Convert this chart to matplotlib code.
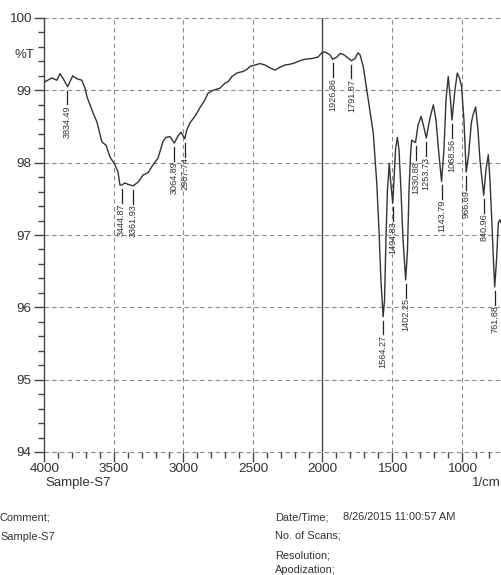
import matplotlib
matplotlib.use("Agg")
import matplotlib.pyplot as plt
from matplotlib.ticker import MultipleLocator

plt.rcParams['font.family'] = ['Liberation Sans', 'DejaVu Sans']

# Spectrum data (wavenumber 1/cm, %T)
wavenumber = [3995, 3945, 3909, 3887, 3858, 3832, 3796, 3765, 3731, 3707, 3693, 3650, 3621,
              3587, 3556, 3528, 3492, 3470, 3456, 3444, 3420, 3398, 3362, 3326, 3290, 3254,
              3219, 3183, 3147, 3125, 3096, 3065, 3039, 3017, 2990, 2976, 2953, 2917, 2881,
              2845, 2823, 2787, 2737, 2701, 2679, 2651, 2615, 2572, 2543, 2521, 2485, 2449,
              2413, 2377, 2341, 2306, 2270, 2234, 2198, 2162, 2126, 2076, 2032, 2004, 1982,
              1946, 1927, 1896, 1874, 1853, 1824, 1792, 1766, 1745, 1730, 1707, 1671, 1635,
              1610, 1594, 1580, 1564, 1554, 1544, 1533, 1520, 1511, 1495, 1486, 1475, 1462,
              1450, 1436, 1421, 1402, 1389, 1378, 1367, 1359, 1342, 1331, 1313, 1291, 1270,
              1254, 1227, 1203, 1184, 1166, 1144, 1127, 1112, 1096, 1080, 1069, 1048, 1031,
              1015, 1000, 983, 967, 950, 930, 918, 899, 882, 868, 841, 825, 808, 796, 784,
              771, 762, 749, 736, 724, 710]
transmittance = [99.12, 99.17, 99.14, 99.23, 99.14, 99.05, 99.20, 99.16, 99.14, 99.03, 98.91,
                 98.69, 98.56, 98.29, 98.24, 98.08, 97.97, 97.87, 97.69, 97.69, 97.72, 97.70,
                 97.68, 97.73, 97.83, 97.86, 97.97, 98.06, 98.29, 98.35, 98.36, 98.27, 98.37,
                 98.42, 98.33, 98.45, 98.55, 98.64, 98.76, 98.87, 98.96, 99.00, 99.03, 99.10,
                 99.12, 99.19, 99.24, 99.26, 99.29, 99.33, 99.35, 99.37, 99.35, 99.31, 99.28,
                 99.32, 99.35, 99.36, 99.38, 99.41, 99.43, 99.44, 99.46, 99.52, 99.53, 99.49,
                 99.43, 99.46, 99.51, 99.50, 99.46, 99.41, 99.44, 99.52, 99.49, 99.33, 98.87,
                 98.41, 97.72, 97.07, 96.38, 95.87, 96.10, 96.93, 97.62, 97.99, 97.76, 97.44,
                 97.76, 98.18, 98.35, 98.18, 97.62, 96.93, 96.38, 96.79, 97.62, 98.11, 98.31,
                 98.29, 98.28, 98.52, 98.64, 98.48, 98.34, 98.62, 98.80, 98.59, 98.18, 97.74,
                 98.18, 98.87, 99.19, 98.87, 98.59, 99.00, 99.24, 99.17, 99.05, 98.59, 97.87,
                 98.10, 98.55, 98.66, 98.77, 98.45, 98.04, 97.55, 97.90, 98.11, 97.76, 97.25,
                 96.65, 96.28, 96.65, 97.17, 97.21, 97.14]

# Peak labels
peak_wn = [3834.49, 3444.87, 3361.93, 3064.89, 2987.74, 1926.86, 1791.87, 1564.27, 1494.83,
           1402.25, 1330.88, 1253.73, 1143.79, 1068.56, 966.69, 840.96, 761.88]
peak_t = [99.05, 97.69, 97.68, 98.27, 98.33, 99.43, 99.41, 95.87, 97.44,
          96.38, 98.28, 98.34, 97.74, 98.59, 97.87, 97.55, 96.28]
peak_text = ["3834.49", "3444.87", "3361.93", "3064.89", "2987.74", "1926.86", "1791.87",
             "1564.27", "1494.83", "1402.25", "1330.88", "1253.73", "1143.79", "1068.56",
             "966.69", "840.96", "761.88"]

x_ticks = [4000, 3500, 3000, 2500, 2000, 1500, 1000]
y_ticks = [94, 95, 96, 97, 98, 99, 100]

W, H = 502, 575
fig = plt.figure(figsize=(W / 100, H / 100), dpi=100)
ax = fig.add_axes([44.3 / W, 1 - 452 / H, 1 - 44.3 / W, (452 - 18) / H])

ax.set_xlim(4000, 709.5)
ax.set_ylim(94, 100)

dark = '#333333'
ax.plot(wavenumber, transmittance, color=dark, lw=1.0, zorder=3)

# grid
for xv in x_ticks[1:]:
    if xv != 2000:
        ax.axvline(xv, color='#8a8a8a', lw=0.8, ls=(0, (4, 3)), zorder=1)
for yv in y_ticks:
    ax.axhline(yv, color='#8a8a8a', lw=0.8, ls=(0, (4, 3)), zorder=1, clip_on=False)
ax.axvline(2000, color='#444444', lw=1.0, zorder=2)

# peak annotations
gap, length = 0.055, 0.19
for w, t, s in zip(peak_wn, peak_t, peak_text):
    ax.plot([w, w], [t - gap, t - gap - length], color='#222222', lw=0.9, zorder=3)
    ax.text(w, t - gap - length - 0.01, s, rotation=90, ha='center', va='top',
            fontsize=6.6, color='#333333', zorder=4)

for sp in ['top', 'right', 'bottom']:
    ax.spines[sp].set_visible(False)
ax.spines['left'].set_color('#444444')
ax.spines['left'].set_linewidth(1.0)

ax.set_xticks(x_ticks)
ax.set_xticklabels([str(v) for v in x_ticks])
ax.set_yticks(y_ticks)
ax.set_yticklabels([str(v) for v in y_ticks])
ax.xaxis.set_minor_locator(MultipleLocator(100))
ax.yaxis.set_minor_locator(MultipleLocator(0.2))
ax.tick_params(axis='both', which='major', length=7, width=1.0, color='#444444',
               labelsize=9.7, labelcolor='#333333', pad=2)
ax.tick_params(axis='both', which='minor', length=4.5, width=1.0, color='#444444')
ax.tick_params(axis='x', which='major', pad=1)

fs_small = 7.9
txt = '#333333'
fig.text(24 / W, 1 - 55 / H, '%T', ha='center', va='center', fontsize=9.5, color=txt)
fig.text(45 / W, 1 - 483 / H, 'Sample-S7', ha='left', va='center', fontsize=9.5, color=txt)
fig.text(501 / W, 1 - 483 / H, '1/cm', ha='right', va='center', fontsize=9.5, color=txt)

fig.text(0 / W, 1 - 518 / H, 'Comment;', ha='left', va='center', fontsize=fs_small, color=txt)
fig.text(0 / W, 1 - 537 / H, 'Sample-S7', ha='left', va='center', fontsize=fs_small, color=txt)
fig.text(275 / W, 1 - 517 / H, 'Date/Time;', ha='left', va='center', fontsize=fs_small, color=txt)
fig.text(343 / W, 1 - 517 / H, '8/26/2015 11:00:57 AM', ha='left', va='center', fontsize=fs_small, color=txt)
fig.text(275 / W, 1 - 535 / H, 'No. of Scans;', ha='left', va='center', fontsize=fs_small, color=txt)
fig.text(275 / W, 1 - 555 / H, 'Resolution;', ha='left', va='center', fontsize=fs_small, color=txt)
fig.text(275 / W, 1 - 570 / H, 'Apodization;', ha='left', va='center', fontsize=fs_small, color=txt)

fig.savefig('out.png', dpi=100)
